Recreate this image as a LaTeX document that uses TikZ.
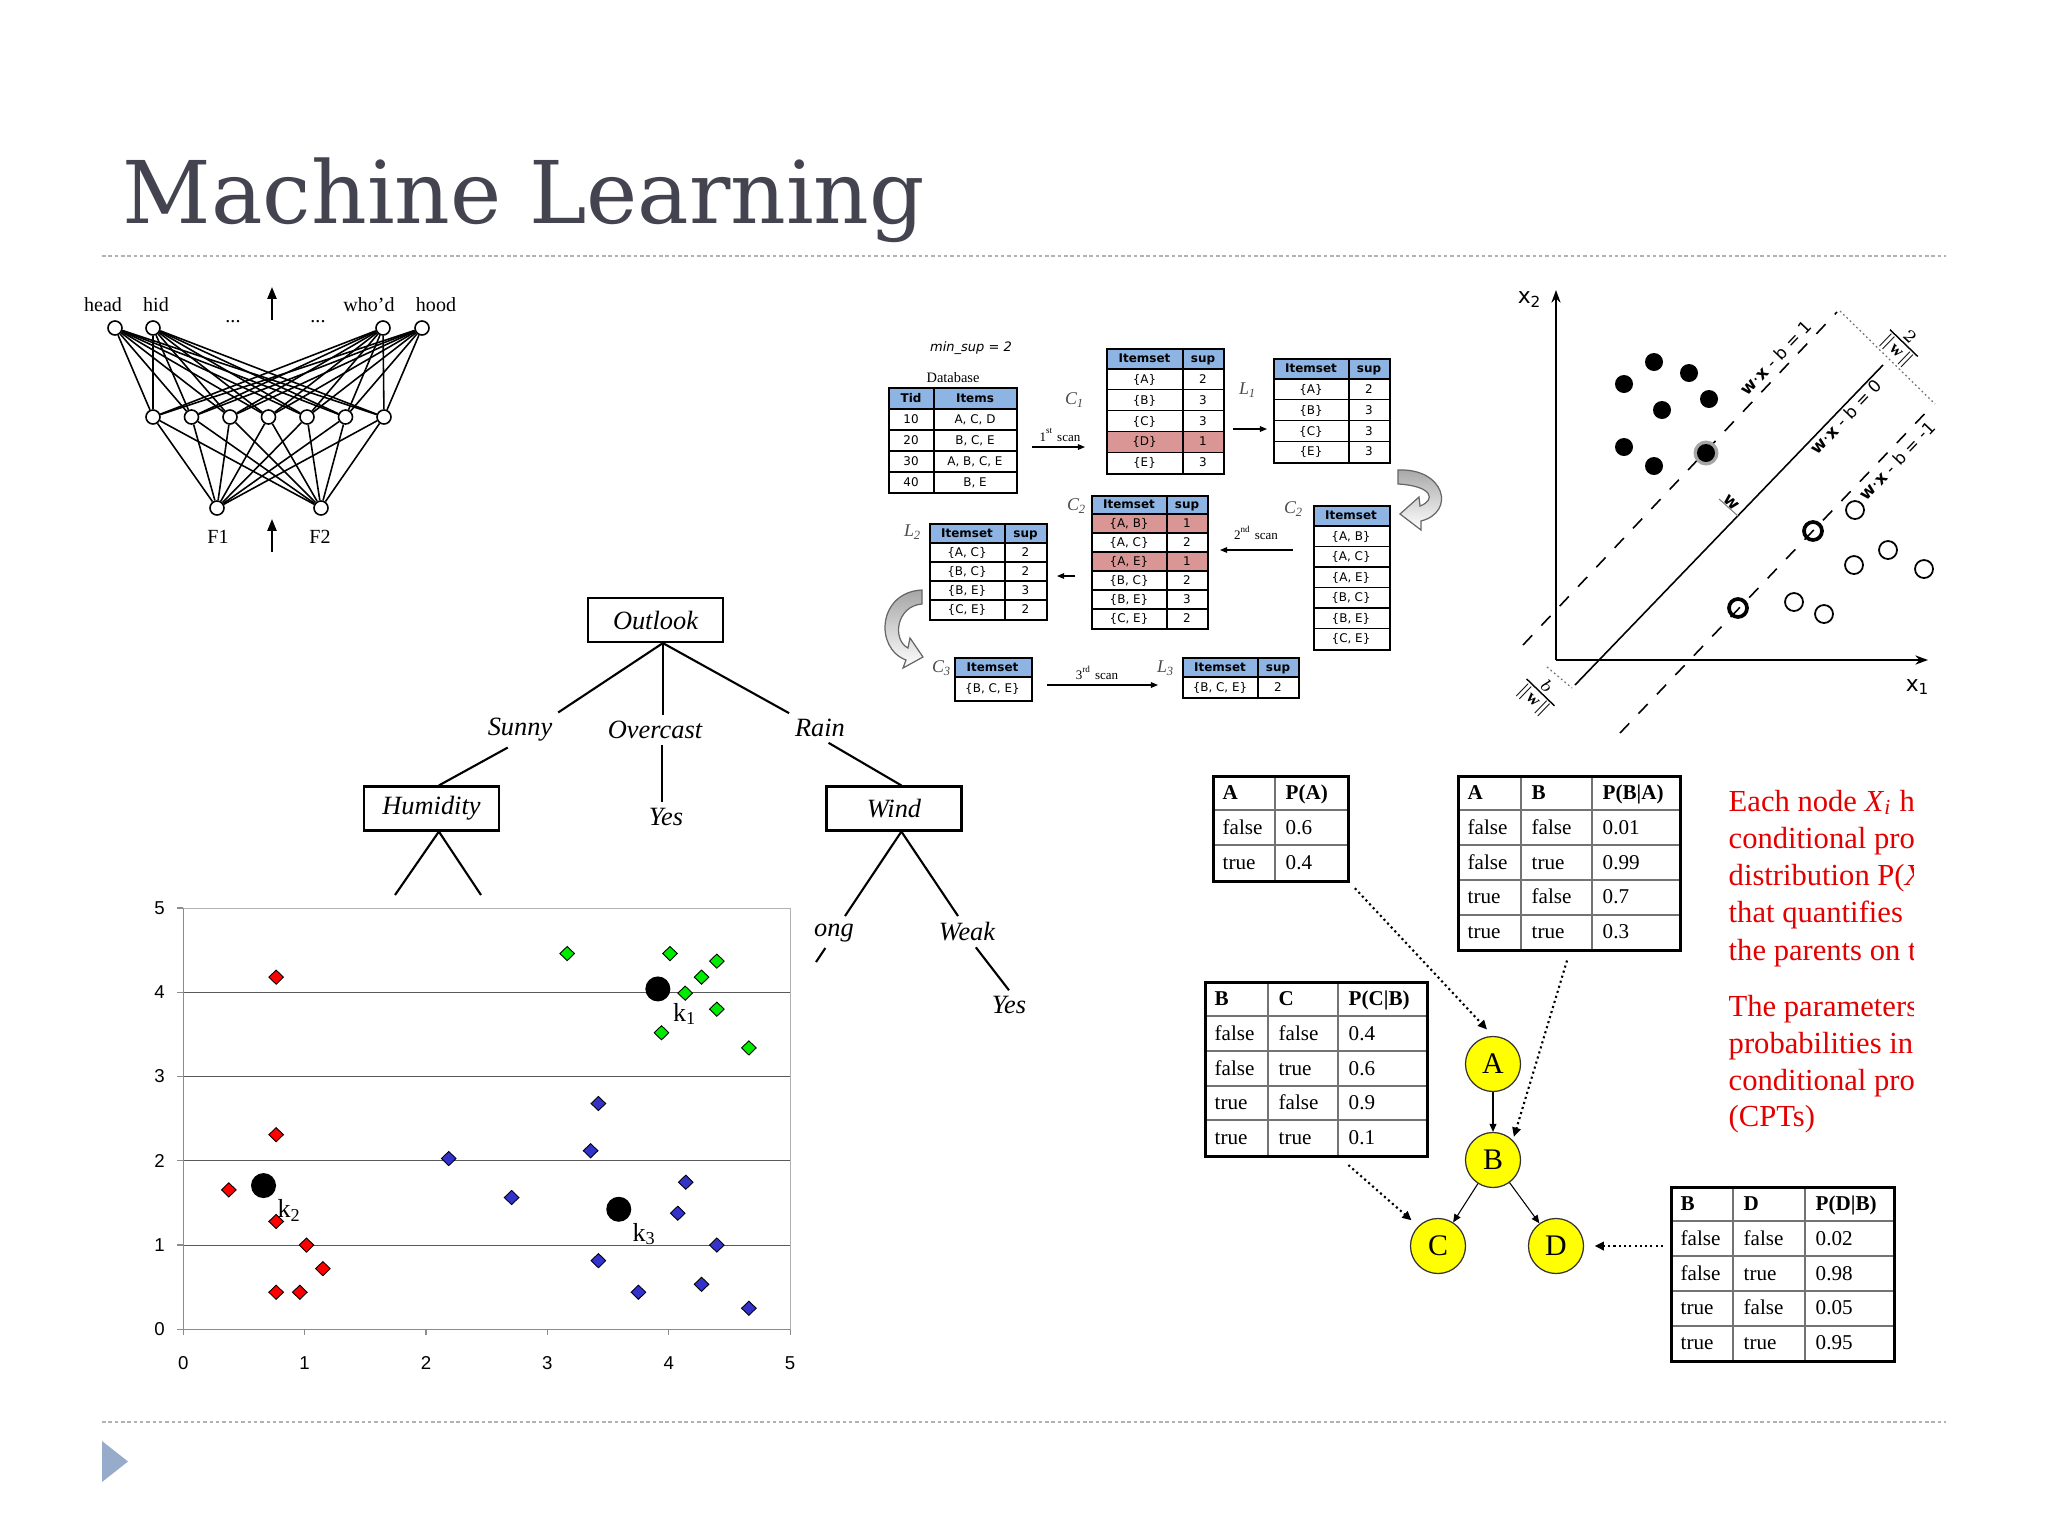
\documentclass[tikz,border=0pt]{standalone}
\usepackage{fontspec}
\setmainfont{Liberation Serif}
\newfontfamily\titlefont{DejaVu Serif}
\newfontfamily\tabfont{DejaVu Sans}
\newfontfamily\plotfont{Liberation Sans}
\usetikzlibrary{arrows.meta,positioning,calc,shapes.geometric}
\definecolor{ctitle}{RGB}{68,68,80}
\definecolor{crule}{RGB}{178,178,178}
\definecolor{cbullet}{RGB}{150,172,202}
\definecolor{chead}{RGB}{141,180,226}
\definecolor{cprune}{RGB}{217,150,148}
\definecolor{cred}{RGB}{255,0,0}
\definecolor{cgreen}{RGB}{0,235,0}
\definecolor{cblue}{RGB}{51,51,204}
\definecolor{cnode}{RGB}{255,255,0}
\definecolor{cnote}{RGB}{226,0,0}
\definecolor{cgrid}{RGB}{90,90,90}
\definecolor{caxis}{RGB}{140,140,140}

\begin{document}
\begin{tikzpicture}[x=0.01cm,y=-0.01cm,
    sliderule/.style={crule,line width=0.55pt,dash pattern=on 1pt off 0.8pt},
    neuron/.style={circle,draw,fill=white,line width=0.45pt,minimum size=0.14cm,inner sep=0pt},
    nnline/.style={line width=0.45pt},
    nnword/.style={font=\fontsize{5.7pt}{6pt}\selectfont,inner sep=0pt},
    flowup/.style={line width=0.6pt,-{Triangle[length=3.4pt,width=2.6pt]}},
    tabframe/.style={draw,line width=0.6pt,inner sep=0pt,anchor=north west},
    tabrule/.style={line width=0.3pt},
    thd/.style={font=\tabfont\bfseries\fontsize{3.4pt}{4pt}\selectfont,anchor=base,inner sep=0pt},
    tcell/.style={font=\tabfont\fontsize{3.4pt}{4pt}\selectfont,anchor=base,inner sep=0pt},
    setlbl/.style={font=\itshape\fontsize{5.1pt}{6pt}\selectfont,text=black!70,inner sep=0pt},
    scanlbl/.style={font=\fontsize{3.7pt}{4pt}\selectfont,inner sep=0pt},
    scanarrow/.style={line width=0.3pt,-{Triangle[length=2pt,width=1.6pt]}},
    fatarrow/.style={draw=black!60,line width=0.35pt,top color=black!35,bottom color=white},
    attr/.style={draw,line width=0.6pt,minimum width=1.35cm,minimum height=0.44cm,inner sep=0pt,
      font=\itshape\fontsize{7.5pt}{9pt}\selectfont},
    branch/.style={font=\itshape\fontsize{7.5pt}{9pt}\selectfont,inner sep=1.5pt},
    tline/.style={line width=0.6pt},
    gridl/.style={cgrid,line width=0.3pt},
    framel/.style={black!30,line width=0.3pt},
    axisl/.style={caxis,line width=0.35pt},
    ticklbl/.style={font=\plotfont\fontsize{5.3pt}{6pt}\selectfont,inner sep=0pt},
    gem/.style={diamond,draw=black,line width=0.25pt,inner sep=0pt,minimum width=0.15cm,minimum height=0.145cm},
    centroid/.style={circle,fill=black,inner sep=0pt,minimum size=0.25cm},
    klbl/.style={font=\fontsize{7.4pt}{8pt}\selectfont,inner sep=0pt},
    svmaxis/.style={line width=0.6pt,-{Stealth[length=3.6pt,width=2.6pt]}},
    margin/.style={line width=0.45pt,dash pattern=on 3.8pt off 3.8pt},
    hyper/.style={line width=0.45pt},
    gap/.style={black!55,line width=0.35pt,dash pattern=on 0.5pt off 0.8pt},
    eqn/.style={font=\tabfont\fontsize{4.8pt}{5pt}\selectfont,inner sep=0.6pt},
    cptframe/.style={draw,line width=0.85pt,inner sep=0pt,anchor=north west},
    cptrule/.style={black!55,line width=0.3pt},
    cpth/.style={font=\bfseries\fontsize{6pt}{7pt}\selectfont,anchor=base west,inner sep=0pt},
    cptc/.style={font=\fontsize{6pt}{7pt}\selectfont,anchor=base west,inner sep=0pt},
    bnode/.style={circle,draw=black!80,fill=cnode,line width=0.35pt,minimum size=0.55cm,inner sep=0pt,
      font=\fontsize{8.5pt}{9pt}\selectfont},
    bedge/.style={line width=0.3pt,-{Triangle[length=2.3pt,width=2pt]}},
    cptlink/.style={line width=0.6pt,dash pattern=on 0.6pt off 0.9pt,-{Triangle[length=2.6pt,width=2.4pt]}},
    note/.style={font=\fontsize{8.7pt}{10pt}\selectfont,text=cnote,anchor=base west,inner sep=0pt}]

  \useasboundingbox (0,0) rectangle (2048,1536);
  \fill[white] (0,0) rectangle (2048,1536);

  % slide title and rules
  \node[anchor=base west,inner sep=0pt,text=ctitle,font=\titlefont\fontsize{24.6pt}{28pt}\selectfont]
    (title) at (122,223) {Machine Learning};
  \draw[sliderule] (102,256) -- (1946,256);
  \draw[sliderule] (102,1422) -- (1946,1422);
  \fill[cbullet] (102,1441) -- (128,1461.5) -- (102,1482) -- cycle;

  % neural network
  \foreach \nm/\xx in {o1/115,o2/153,o3/383,o4/422}
    \node[neuron] (\nm) at (\xx,328) {};
  \foreach \i in {1,...,7}
    \node[neuron] (h\i) at ({153+38.5*(\i-1)},417) {};
  \node[neuron] (f1) at (217,508) {};
  \node[neuron] (f2) at (321,508) {};
  \foreach \o in {o1,o2,o3,o4}
    \foreach \i in {1,...,7}
      \draw[nnline] (\o) -- (h\i);
  \foreach \i in {1,...,7}
    \foreach \f in {f1,f2}
      \draw[nnline] (h\i) -- (\f);
  \node[nnword] (w-head) at (103,305) {head};
  \node[nnword] (w-hid) at (156,305) {hid};
  \node[nnword] (w-whod) at (369,305) {who'd};
  \node[nnword] (w-hood) at (436,305) {hood};
  \node[nnword] (dots1) at (233,322) {...};
  \node[nnword] (dots2) at (318,322) {...};
  \node[nnword] (w-f1) at (218,537) {F1};
  \node[nnword] (w-f2) at (320,537) {F2};
  \coordinate (nn-out0) at (272,320);
  \coordinate (nn-out1) at (272,287);
  \coordinate (nn-in0) at (272,552);
  \coordinate (nn-in1) at (272,519);
  \draw[flowup] (nn-out0) -- (nn-out1);
  \draw[flowup] (nn-in0) -- (nn-in1);

  % apriori: database
  \node[font=\tabfont\itshape\fontsize{3.7pt}{4pt}\selectfont,inner sep=0pt] (minsup) at (971,348) {min\_sup = 2};
  \node[font=\fontsize{4.1pt}{5pt}\selectfont,inner sep=0pt] (dbname) at (953,378) {Database};
  \fill[chead] (888,387) rectangle (1016,409);
  \foreach \yy in {409,430,451,472} \draw[tabrule] (888,\yy) -- (1016,\yy);
  \draw[tabrule] (934,387) -- (934,492);
  \node[tabframe,minimum width=1.28cm,minimum height=1.05cm] (db) at (888,387) {};
  \node[thd] (db-h1) at (911,402) {Tid};
  \node[thd] (db-h2) at (975,402) {Items};
  \foreach \tid/\its [count=\i] in {10/{A, C, D},20/{B, C, E},30/{A, B, C, E},40/{B, E}} {
    \node[tcell] (db-t\i) at (911,402+21*\i) {\tid};
    \node[tcell] (db-i\i) at (975,402+21*\i) {\its};
  }

  % apriori: C1
  \fill[chead] (1106,348) rectangle (1223,369);
  \fill[cprune] (1106,431.4) rectangle (1223,452.2);
  \foreach \k in {0,...,4} \draw[tabrule] (1106,369+20.8*\k) -- (1223,369+20.8*\k);
  \draw[tabrule] (1183,348) -- (1183,473);
  \node[tabframe,minimum width=1.17cm,minimum height=1.25cm] (c1) at (1106,348) {};
  \node[thd] (c1-h1) at (1144.5,362.5) {Itemset};
  \node[thd] (c1-h2) at (1203,362.5) {sup};
  \foreach \st/\sp [count=\i] in {\{A\}/2,\{B\}/3,\{C\}/3,\{D\}/1,\{E\}/3} {
    \node[tcell] (c1-s\i) at (1144.5,362.6+20.8*\i) {\st};
    \node[tcell] (c1-n\i) at (1203,362.6+20.8*\i) {\sp};
  }
  \node[setlbl] (lc1) at (1075,400) {C\textsubscript{1}};
  \node[scanlbl] (scan1) at (1060,435) {1\textsuperscript{st} scan};
  \coordinate (s1a) at (1032,447);
  \coordinate (s1b) at (1085,447);
  \draw[scanarrow] (s1a) -- (s1b);

  % apriori: L1
  \fill[chead] (1273,358) rectangle (1389,379);
  \foreach \k in {0,...,3} \draw[tabrule] (1273,379+20.8*\k) -- (1389,379+20.8*\k);
  \draw[tabrule] (1349,358) -- (1349,462);
  \node[tabframe,minimum width=1.16cm,minimum height=1.04cm] (l1) at (1273,358) {};
  \node[thd] (l1-h1) at (1311,372.5) {Itemset};
  \node[thd] (l1-h2) at (1369,372.5) {sup};
  \foreach \st/\sp [count=\i] in {\{A\}/2,\{B\}/3,\{C\}/3,\{E\}/3} {
    \node[tcell] (l1-s\i) at (1311,372.6+20.8*\i) {\st};
    \node[tcell] (l1-n\i) at (1369,372.6+20.8*\i) {\sp};
  }
  \node[setlbl] (ll1) at (1248,390) {L\textsubscript{1}};
  \coordinate (p1a) at (1233,429);
  \coordinate (p1b) at (1267,429);
  \draw[scanarrow] (p1a) -- (p1b);
  \draw[fatarrow] (1398,470) .. controls (1445,468) and (1456,512) .. (1421,521) -- (1421,530)
    -- (1400,514) -- (1419,497) -- (1420,506) .. controls (1436,500) and (1433,486) .. (1398,484) -- cycle;

  % apriori: C2 candidates
  \fill[chead] (1313,505) rectangle (1389,526);
  \foreach \k in {0,...,5} \draw[tabrule] (1313,526+20.5*\k) -- (1389,526+20.5*\k);
  \node[tabframe,minimum width=0.76cm,minimum height=1.44cm] (c2r) at (1313,505) {};
  \node[thd] (c2r-h) at (1351,519.5) {Itemset};
  \foreach \st [count=\i] in {{\{A, B\}},{\{A, C\}},{\{A, E\}},{\{B, C\}},{\{B, E\}},{\{C, E\}}}
    \node[tcell] (c2r-s\i) at (1351,519.5+20.5*\i) {\st};
  \node[setlbl] (lc2r) at (1294,509) {C\textsubscript{2}};
  \node[scanlbl] (scan2) at (1256,533) {2\textsuperscript{nd} scan};
  \coordinate (s2a) at (1293,550);
  \coordinate (s2b) at (1220,550);
  \draw[scanarrow] (s2a) -- (s2b);

  % apriori: C2 counted
  \fill[chead] (1091,495) rectangle (1207,514);
  \fill[cprune] (1091,514) rectangle (1207,533);
  \fill[cprune] (1091,552) rectangle (1207,571);
  \foreach \k in {0,...,5} \draw[tabrule] (1091,514+19*\k) -- (1207,514+19*\k);
  \draw[tabrule] (1167,495) -- (1167,628);
  \node[tabframe,minimum width=1.16cm,minimum height=1.33cm] (c2) at (1091,495) {};
  \node[thd] (c2-h1) at (1129,508.5) {Itemset};
  \node[thd] (c2-h2) at (1187,508.5) {sup};
  \foreach \st/\sp [count=\i] in {{\{A, B\}}/1,{\{A, C\}}/2,{\{A, E\}}/1,{\{B, C\}}/2,{\{B, E\}}/3,{\{C, E\}}/2} {
    \node[tcell] (c2-s\i) at (1129,508.5+19*\i) {\st};
    \node[tcell] (c2-n\i) at (1187,508.5+19*\i) {\sp};
  }
  \node[setlbl] (lc2) at (1077,506) {C\textsubscript{2}};
  \coordinate (p2a) at (1075,576);
  \coordinate (p2b) at (1057,576);
  \draw[scanarrow] (p2a) -- (p2b);

  % apriori: L2
  \fill[chead] (929,523) rectangle (1046,543);
  \foreach \k in {0,...,3} \draw[tabrule] (929,543+19*\k) -- (1046,543+19*\k);
  \draw[tabrule] (1005,523) -- (1005,619);
  \node[tabframe,minimum width=1.17cm,minimum height=0.96cm] (l2) at (929,523) {};
  \node[thd] (l2-h1) at (967,537) {Itemset};
  \node[thd] (l2-h2) at (1025.5,537) {sup};
  \foreach \st/\sp [count=\i] in {{\{A, C\}}/2,{\{B, C\}}/2,{\{B, E\}}/3,{\{C, E\}}/2} {
    \node[tcell] (l2-s\i) at (967,537+19.2*\i) {\st};
    \node[tcell] (l2-n\i) at (1025.5,537+19.2*\i) {\sp};
  }
  \node[setlbl] (ll2) at (913,532) {L\textsubscript{2}};
  \draw[fatarrow] (922,590) .. controls (878,592) and (874,648) .. (906,660) -- (903,668)
    -- (923,657) -- (910,638) -- (908,648) .. controls (892,640) and (896,606) .. (922,604) -- cycle;

  % apriori: C3 and L3
  \fill[chead] (954,657) rectangle (1031,677);
  \draw[tabrule] (954,677) -- (1031,677);
  \node[tabframe,minimum width=0.77cm,minimum height=0.43cm] (c3) at (954,657) {};
  \node[thd] (c3-h) at (992.5,671) {Itemset};
  \node[tcell] (c3-s1) at (992.5,692.5) {\{B, C, E\}};
  \node[setlbl] (lc3) at (942,668) {C\textsubscript{3}};
  \node[scanlbl] (scan3) at (1097,673) {3\textsuperscript{rd} scan};
  \coordinate (s3a) at (1047,685);
  \coordinate (s3b) at (1158,685);
  \draw[scanarrow] (s3a) -- (s3b);
  \fill[chead] (1182,657) rectangle (1298,677);
  \draw[tabrule] (1182,677) -- (1298,677);
  \draw[tabrule] (1258,657) -- (1258,697);
  \node[tabframe,minimum width=1.16cm,minimum height=0.40cm] (l3) at (1182,657) {};
  \node[thd] (l3-h1) at (1220,671) {Itemset};
  \node[thd] (l3-h2) at (1278,671) {sup};
  \node[tcell] (l3-s1) at (1220,691) {\{B, C, E\}};
  \node[tcell] (l3-n1) at (1278,691) {2};
  \node[setlbl] (ll3) at (1166,668) {L\textsubscript{3}};

  % support vector machine
  \coordinate (svm-o) at (1556,660);
  \coordinate (svm-y) at (1556,290);
  \coordinate (svm-x) at (1928,660);
  \draw[svmaxis] (svm-o) -- (svm-y);
  \draw[svmaxis] (svm-o) -- (svm-x);
  \node[font=\tabfont\fontsize{6.2pt}{7pt}\selectfont,inner sep=0pt] (lx2) at (1530,300) {x\textsubscript{2}};
  \node[font=\tabfont\fontsize{6.2pt}{7pt}\selectfont,inner sep=0pt] (lx1) at (1918,687) {x\textsubscript{1}};
  \draw[hyper] (1575,685) -- (1883,365);
  \draw[margin] (1523,645) -- (1837,312);
  \draw[margin] (1620,733) -- (1933,405);
  \draw[gap] (1840,311) -- (1935,404);
  \draw[gap] (1547,667) -- (1572,688);
  \draw[black!50,line width=0.3pt] (1719,499) -- (1738,516);
  \node[eqn,rotate=46.4] (eq1) at (1776,358) {\textbf{w}·\textbf{x} - b = 1};
  \node[eqn,rotate=46.4] (eq0) at (1846,417) {\textbf{w}·\textbf{x} - b = 0};
  \node[eqn,rotate=46.4] (eqm) at (1897,461) {\textbf{w}·\textbf{x} - b = -1};
  \node[eqn,rotate=-44] (wlbl) at (1731,503) {\textbf{w}};
  \node[font=\fontsize{6pt}{7pt}\selectfont,inner sep=0pt,rotate=-44] (mwidth) at (1902,345)
    {$\frac{2}{\|\mathbf{w}\|}$};
  \node[font=\fontsize{6pt}{7pt}\selectfont,inner sep=0pt,rotate=-44] (offset) at (1539,694)
    {$\frac{b}{\|\mathbf{w}\|}$};
  \fill[black!35] (1706,453) circle (12.5);
  \foreach \xx/\yy in {1654/362,1689/373,1624/384,1709/399,1662/410,1624/447,1654/466,1706/453}
    \fill (\xx,\yy) circle (9);
  \foreach \xx/\yy in {1855/510,1888/550,1854/565,1924/569,1794/602,1824/614}
    \draw[line width=0.5pt] (\xx,\yy) circle (9);
  \foreach \xx/\yy in {1813/531,1738/608}
    \draw[line width=1.05pt] (\xx,\yy) circle (9);

  % decision tree
  \node[attr] (outlook) at (655.5,620) {Outlook};
  \node[attr] (humidity) at (431.5,808.5) {Humidity};
  \node[attr] (wind) at (894,808.5) {Wind};
  \node[branch] (sunny) at (520,730) {Sunny};
  \node[branch] (overcast) at (655,730) {Overcast};
  \node[branch] (rain) at (820,728) {Rain};
  \node[branch] (yes1) at (666,817) {Yes};
  \node[branch] (strong) at (834,933) {ong};
  \node[branch] (weak) at (967,932) {Weak};
  \node[branch] (yes2) at (1009,1005) {Yes};
  \draw[tline] ([xshift=2.1pt]outlook.south) -- (sunny.north east);
  \draw[tline] ([xshift=2.1pt]outlook.south) -- ([xshift=2.1pt]outlook.south |- overcast.north);
  \draw[tline] ([xshift=2.1pt]outlook.south) -- (rain.north west);
  \draw[tline] (sunny.235) -- ([xshift=2.1pt]humidity.north);
  \draw[tline] ([xshift=2.1pt]overcast.south) -- ([xshift=2.1pt]overcast.south |- yes1.north);
  \draw[tline] (rain.300) -- ([xshift=2.1pt]wind.north);
  \coordinate (hum-l) at (395,895);
  \coordinate (hum-r) at (481,895);
  \coordinate (wind-l) at (845,916);
  \coordinate (wind-r) at (958,916);
  \coordinate (strong-end) at (816,962);
  \draw[tline] ([xshift=2.1pt]humidity.south) -- (hum-l);
  \draw[tline] ([xshift=2.1pt]humidity.south) -- (hum-r);
  \draw[tline] ([xshift=2.1pt]wind.south) -- (wind-l);
  \draw[tline] ([xshift=2.1pt]wind.south) -- (wind-r);
  \draw[tline] (strong.-120) -- (strong-end);
  \draw[tline] (weak.-60) -- (yes2.north);

  % k-means scatter plot
  \begin{scope}[shift={(183.3,1329.3)},x=1.213cm,y=0.842cm]
    \foreach \k in {1,...,4} \draw[gridl] (0,\k) -- (5,\k);
    \draw[framel] (0,5) -- (5,5) -- (5,0);
    \draw[axisl] (0,5) -- (0,0) -- (5,0);
    \foreach \k in {0,...,5} {
      \draw[axisl] (-0.05,\k) -- (0,\k);
      \draw[axisl] (\k,0) -- (\k,-0.07);
      \node[ticklbl] (yt\k) at (-0.196,\k) {\k};
      \node[ticklbl] (xt\k) at (\k,-0.404) {\k};
    }
    \foreach \px/\py [count=\i] in {0.765/4.18,0.765/2.31,0.375/1.655,0.765/1.28,1.015/1.0,1.15/0.72,0.765/0.44,0.96/0.44}
      \node[gem,fill=cred] (red\i) at (\px,\py) {};
    \foreach \px/\py [count=\i] in {3.163/4.46,4.01/4.46,4.396/4.37,4.27/4.18,4.135/3.99,4.396/3.80,3.94/3.52,4.66/3.34}
      \node[gem,fill=cgreen] (green\i) at (\px,\py) {};
    \foreach \px/\py [count=\i] in {2.187/2.027,2.705/1.564,3.42/2.68,3.356/2.12,4.14/1.746,4.074/1.378,4.396/1.0,3.42/0.815,3.75/0.44,4.27/0.534,4.66/0.25}
      \node[gem,fill=cblue] (blue\i) at (\px,\py) {};
    \node[centroid] (k1) at (3.91,4.04) {};
    \node[centroid] (k2) at (0.661,1.706) {};
    \node[centroid] (k3) at (3.588,1.425) {};
    \node[klbl] (k1-lbl) at (4.135,3.745) {k\textsubscript{1}};
    \node[klbl] (k2-lbl) at (0.876,1.41) {k\textsubscript{2}};
    \node[klbl] (k3-lbl) at (3.80,1.13) {k\textsubscript{3}};
  \end{scope}

  % bayesian network: P(A)
  \foreach \yy in {810,845} \draw[cptrule] (1212,\yy) -- (1347,\yy);
  \draw[cptrule] (1275,775) -- (1275,880);
  \node[cptframe,minimum width=1.35cm,minimum height=1.05cm] (pa) at (1212,775) {};
  \node[cpth] (pa-h1) at (1222,799.5) {A};
  \node[cpth] (pa-h2) at (1285,799.5) {P(A)};
  \foreach \va/\pv [count=\i] in {false/0.6,true/0.4} {
    \node[cptc] (pa-a\i) at (1222,799.5+35*\i) {\va};
    \node[cptc] (pa-p\i) at (1285,799.5+35*\i) {\pv};
  }

  % P(B|A)
  \foreach \yy in {810,845,880,915} \draw[cptrule] (1457,\yy) -- (1679,\yy);
  \foreach \xx in {1521,1592} \draw[cptrule] (\xx,775) -- (\xx,949);
  \node[cptframe,minimum width=2.22cm,minimum height=1.74cm] (pba) at (1457,775) {};
  \node[cpth] (pba-h1) at (1467,799.5) {A};
  \node[cpth] (pba-h2) at (1531,799.5) {B};
  \node[cpth] (pba-h3) at (1602,799.5) {P(B|A)};
  \foreach \va/\vb/\pv [count=\i] in {false/false/0.01,false/true/0.99,true/false/0.7,true/true/0.3} {
    \node[cptc] (pba-a\i) at (1467,799.5+34.8*\i) {\va};
    \node[cptc] (pba-b\i) at (1531,799.5+34.8*\i) {\vb};
    \node[cptc] (pba-p\i) at (1602,799.5+34.8*\i) {\pv};
  }

  % P(C|B)
  \foreach \yy in {1016,1051,1086,1120} \draw[cptrule] (1204,\yy) -- (1426,\yy);
  \foreach \xx in {1268,1338} \draw[cptrule] (\xx,981) -- (\xx,1155);
  \node[cptframe,minimum width=2.22cm,minimum height=1.74cm] (pcb) at (1204,981) {};
  \node[cpth] (pcb-h1) at (1214,1005.5) {B};
  \node[cpth] (pcb-h2) at (1278,1005.5) {C};
  \node[cpth] (pcb-h3) at (1348,1005.5) {P(C|B)};
  \foreach \va/\vb/\pv [count=\i] in {false/false/0.4,false/true/0.6,true/false/0.9,true/true/0.1} {
    \node[cptc] (pcb-b\i) at (1214,1005.5+34.8*\i) {\va};
    \node[cptc] (pcb-c\i) at (1278,1005.5+34.8*\i) {\vb};
    \node[cptc] (pcb-p\i) at (1348,1005.5+34.8*\i) {\pv};
  }

  % P(D|B)
  \foreach \yy in {1221,1256,1291,1326} \draw[cptrule] (1670,\yy) -- (1893,\yy);
  \foreach \xx in {1733,1805} \draw[cptrule] (\xx,1186) -- (\xx,1360);
  \node[cptframe,minimum width=2.23cm,minimum height=1.74cm] (pdb) at (1670,1186) {};
  \node[cpth] (pdb-h1) at (1680,1210.5) {B};
  \node[cpth] (pdb-h2) at (1743,1210.5) {D};
  \node[cpth] (pdb-h3) at (1815,1210.5) {P(D|B)};
  \foreach \va/\vb/\pv [count=\i] in {false/false/0.02,false/true/0.98,true/false/0.05,true/true/0.95} {
    \node[cptc] (pdb-b\i) at (1680,1210.5+34.8*\i) {\va};
    \node[cptc] (pdb-d\i) at (1743,1210.5+34.8*\i) {\vb};
    \node[cptc] (pdb-p\i) at (1815,1210.5+34.8*\i) {\pv};
  }

  % network nodes
  \node[bnode] (a) at (1493,1064) {A};
  \node[bnode] (b) at (1493,1160) {B};
  \node[bnode] (c) at (1438,1246) {C};
  \node[bnode] (d) at (1556,1246) {D};
  \draw[bedge] (a) -- (b);
  \draw[bedge] (b) -- (c);
  \draw[bedge] (b) -- (d);
  \draw[cptlink,shorten <=2pt,shorten >=2.5pt] (pa.south east) -- (a.north);
  \draw[cptlink,shorten <=2.5pt,shorten >=1pt] (pba.south) -- (b.45);
  \draw[cptlink,shorten <=3pt,shorten >=2.5pt] ([xshift=6.8pt]pcb.south) -- (c.135);
  \draw[cptlink,shorten <=2pt,shorten >=3pt] (pdb.west |- d.east) -- (d.east);

  % red notes, cut at the slide edge
  \begin{scope}
    \clip (1700,770) rectangle (1913,1150);
    \foreach \ln [count=\i] in {Each node \textit{X}\textsubscript{\textit{i}} has,conditional pro,
        distribution P(\textit{X},that quantifies,the parents on t}
      \node[note] (note1-\i) at (1728,811+37.3*\i-37.3) {\ln};
    \foreach \ln [count=\i] in {The parameters,probabilities in,conditional pro,(CPTs)}
      \node[note] (note2-\i) at (1728,1016.7+36.7*\i-36.7) {\ln};
  \end{scope}
\end{tikzpicture}
\end{document}
